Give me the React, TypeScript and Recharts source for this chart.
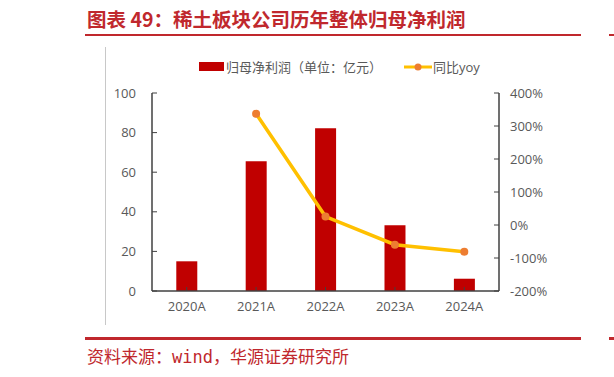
import React from "react";
import {
  ComposedChart,
  Bar,
  Line,
  XAxis,
  YAxis,
} from "recharts";

const years = ["2020A", "2021A", "2022A", "2023A", "2024A"];
const profit = [15, 65.5, 82.2, 33.2, 6.2];
const yoy = [null, 337, 25.5, -59.6, -81.3];
const leftTicks = [0, 20, 40, 60, 80, 100];
const rightTicks = [-200, -100, 0, 100, 200, 300, 400];

const RED = "#C00000";
const GOLD = "#FFC000";
const ORANGE = "#ED7D31";
const TITLE_RED = "#C0282D";
const FONT = "'Open Sans', 'Noto Sans CJK SC', sans-serif";

const data = years.map((y, i) => ({ year: y, profit: profit[i], yoy: yoy[i] }));

function ChartLegend() {
  return (
    <div
      style={{
        position: "absolute",
        left: 199,
        top: 57,
        display: "flex",
        alignItems: "center",
        fontFamily: FONT,
        fontSize: 13,
        color: "#595959",
        whiteSpace: "nowrap",
      }}
    >
      <span style={{ width: 25, height: 9, background: RED, display: "inline-block" }} />
      <span style={{ marginLeft: 2 }}>归母净利润（单位：亿元）</span>
      <svg width={28} height={10} style={{ marginLeft: 22 }}>
        <line x1={0} y1={5} x2={28} y2={5} stroke={GOLD} strokeWidth={3} />
        <circle cx={14} cy={5} r={3.5} fill={ORANGE} />
      </svg>
      <span style={{ marginLeft: 1 }}>同比yoy</span>
    </div>
  );
}

export default function App() {
  return (
    <div
      style={{
        position: "absolute",
        left: 0,
        top: 0,
        width: 614,
        height: 377,
        background: "#fff",
        overflow: "hidden",
      }}
    >
      <div
        style={{
          position: "absolute",
          left: 87,
          top: 6,
          fontFamily: "'Noto Sans CJK SC', sans-serif",
          fontWeight: 700,
          fontSize: 19.5,
          lineHeight: "26px",
          color: TITLE_RED,
          whiteSpace: "nowrap",
        }}
      >
        图表 49：稀土板块公司历年整体归母净利润
      </div>
      <div style={{ position: "absolute", left: 85, top: 34, width: 496, height: 2, background: TITLE_RED }} />
      <div style={{ position: "absolute", left: 609, top: 34, width: 5, height: 2, background: TITLE_RED }} />
      <div style={{ position: "absolute", left: 105, top: 47, width: 1, height: 278, background: "#c8c8c8" }} />

      <ChartLegend />

      <div style={{ position: "absolute", left: 105, top: 45 }}>
        <ComposedChart
          width={450}
          height={280}
          data={data}
          margin={{ top: 48, right: 0, bottom: 10, left: 0 }}
          barCategoryGap="35%"
        >
          <XAxis
            dataKey="year"
            height={24}
            tickSize={-4}
            tickMargin={15}
            axisLine={{ stroke: "#404040", strokeWidth: 1.5 }}
            tickLine={{ stroke: "#404040" }}
            tick={{ fill: "#595959", fontSize: 13, fontFamily: FONT }}
          />
          <YAxis
            yAxisId="left"
            domain={[0, 100]}
            ticks={leftTicks}
            width={47}
            tickSize={-5}
            tickMargin={21}
            axisLine={{ stroke: "#404040", strokeWidth: 1.5 }}
            tickLine={{ stroke: "#404040" }}
            tick={{ fill: "#595959", fontSize: 13, fontFamily: FONT }}
          />
          <YAxis
            yAxisId="right"
            orientation="right"
            domain={[-200, 400]}
            ticks={rightTicks}
            width={56}
            tickSize={-5}
            tickMargin={16}
            tickFormatter={(v) => `${v}%`}
            axisLine={{ stroke: "#404040", strokeWidth: 1.5 }}
            tickLine={{ stroke: "#404040" }}
            tick={{ fill: "#595959", fontSize: 13, fontFamily: FONT }}
          />
          <Bar yAxisId="left" dataKey="profit" fill={RED} isAnimationActive={false} />
          <Line
            yAxisId="right"
            dataKey="yoy"
            stroke={GOLD}
            strokeWidth={3.5}
            dot={{ r: 4, fill: ORANGE, stroke: ORANGE, strokeWidth: 0 }}
            activeDot={false}
            connectNulls={false}
            isAnimationActive={false}
          />
        </ComposedChart>
      </div>

      <div style={{ position: "absolute", left: 85, top: 337, width: 496, height: 3, background: TITLE_RED }} />
      <div style={{ position: "absolute", left: 609, top: 337, width: 5, height: 3, background: TITLE_RED }} />
      <div
        style={{
          position: "absolute",
          left: 87,
          top: 346,
          fontFamily: "'DejaVu Sans Mono', 'Noto Sans CJK SC', monospace",
          fontSize: 17,
          color: TITLE_RED,
          whiteSpace: "nowrap",
          lineHeight: "22px",
        }}
      >
        资料来源：wind，华源证券研究所
      </div>
    </div>
  );
}
